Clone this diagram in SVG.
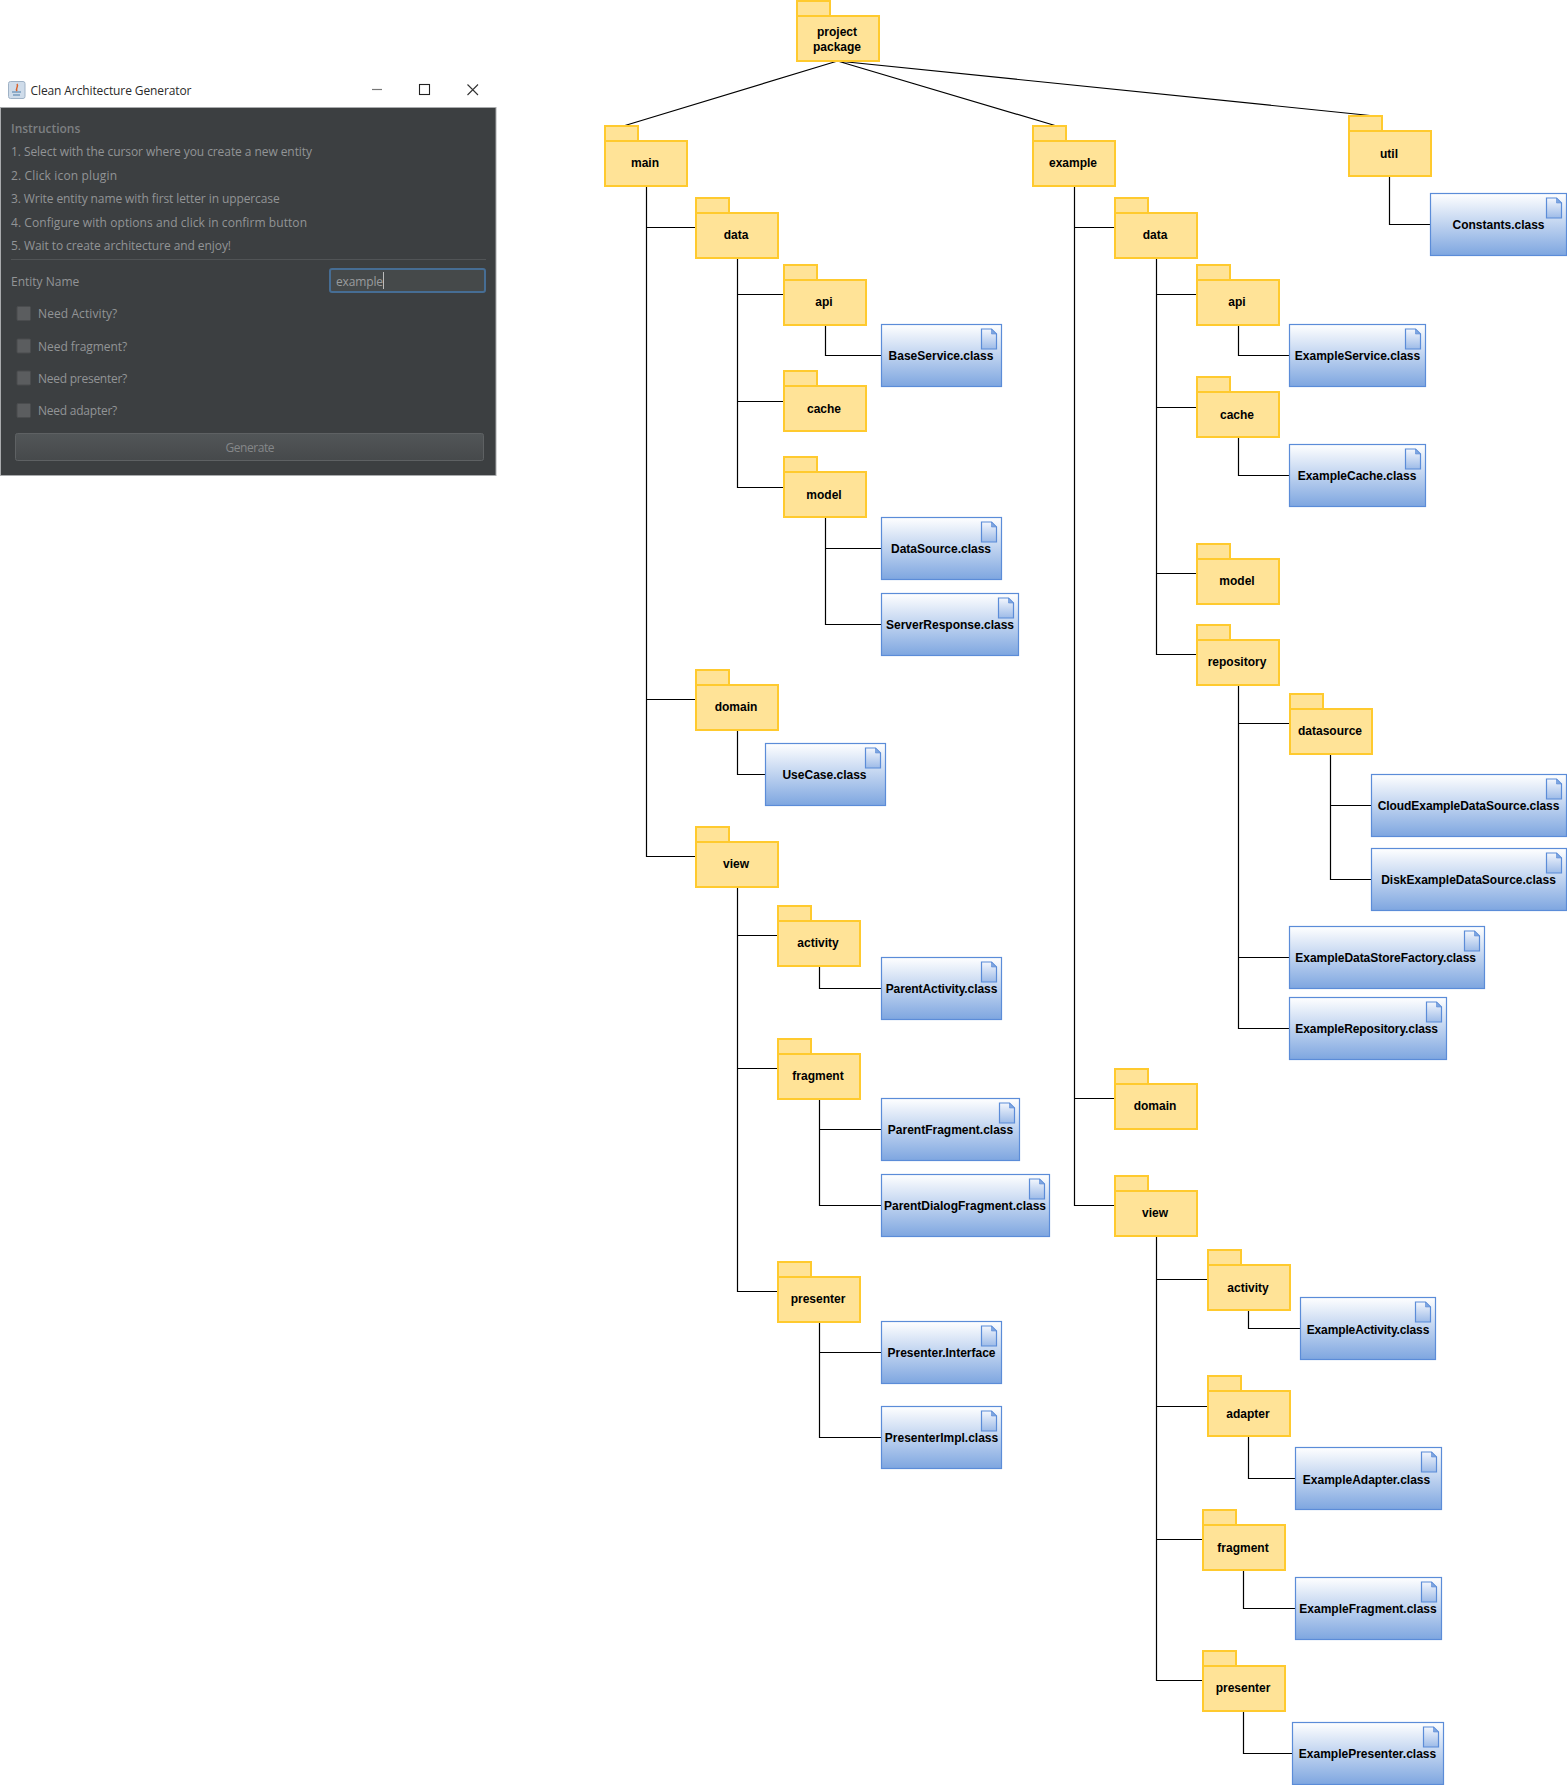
<svg xmlns="http://www.w3.org/2000/svg" width="1567" height="1785" viewBox="0 0 1567 1785">
<style>
.n{font-family:"Liberation Sans",Arial,sans-serif;font-weight:700;font-size:12px;fill:#000;text-anchor:middle}
.f{fill:#ffe397;stroke:#ffca2e;stroke-width:2}
.c{fill:url(#cg);stroke:#5b8cd8;stroke-width:1.2}
.d{fill:url(#dg);stroke:#5b8cd8;stroke-width:1.2}
.l{fill:none;stroke:#000;stroke-width:1.2}
.u{font-family:"Open Sans","Noto Sans",sans-serif;font-size:12px;fill:#929496}
.cb{fill:#5b5d5f;stroke:#4a4c4e;stroke-width:1}
</style>
<defs>
<linearGradient id="cg" x1="0" y1="0" x2="0" y2="1"><stop offset="0" stop-color="#fff"/><stop offset="1" stop-color="#7ea6e0"/></linearGradient>
<linearGradient id="dg" x1="0" y1="0" x2="0" y2="1"><stop offset="0" stop-color="#f4f7fd"/><stop offset="1" stop-color="#9dbbe8"/></linearGradient>
<linearGradient id="bg" x1="0" y1="0" x2="0" y2="1"><stop offset="0" stop-color="#525658"/><stop offset="1" stop-color="#46494b"/></linearGradient>
<g id="folder"><rect class="f" x="1" y="1" width="33" height="15"/><rect class="f" x="1" y="16" width="82" height="45"/></g>
<g id="doc"><path class="d" d="M0 0H10L15 5V20H0Z"/><path d="M10 0V5H15Z" fill="#7ea6e0" stroke="#5b8cd8" stroke-width="0.6"/></g>
</defs>
<rect width="1567" height="1785" fill="#fff"/>

<g id="window">
<rect x="0.5" y="107.5" width="495.5" height="368" fill="#3c3f41" stroke="#a9abad" stroke-width="1"/>
<g id="titlebar">
<rect x="8.5" y="81.5" width="16.5" height="17" rx="2" fill="#cfdcea" stroke="#9fb2c6" stroke-width="1"/>
<path d="M17 84c2 3-2 4 0 7" fill="none" stroke="#d9622b" stroke-width="1.5"/>
<path d="M12 92h9M13 95h7" stroke="#4f7ca8" stroke-width="1.2"/>
<text x="30.5" y="94.5" textLength="161" style="font-family:'Open Sans','Noto Sans',sans-serif;font-size:12px;fill:#2a2a2a">Clean Architecture Generator</text>
<path d="M372 89.5H382" stroke="#777" stroke-width="1.2"/>
<rect x="419.5" y="84.5" width="10" height="10" fill="none" stroke="#222" stroke-width="1.1"/>
<path d="M467.5 84.5L478 95M478 84.5L467.5 95" stroke="#333" stroke-width="1.1"/>
</g>
<text class="u" x="11" y="132.5" textLength="69.3" style="font-weight:600;fill:#7d7f81">Instructions</text>
<text class="u" x="11" y="156" textLength="301">1. Select with the cursor where you create a new entity</text>
<text class="u" x="11" y="179.5" textLength="106">2. Click icon plugin</text>
<text class="u" x="11" y="203" textLength="268.7">3. Write entity name with first letter in uppercase</text>
<text class="u" x="11" y="226.5" textLength="296">4. Configure with options and click in confirm button</text>
<text class="u" x="11" y="250" textLength="220">5. Wait to create architecture and enjoy!</text>
<path d="M11 259.5H486" stroke="#515456" stroke-width="1"/>
<text class="u" x="11" y="285.5" textLength="68.3">Entity Name</text>
<rect x="330" y="269" width="155" height="23" rx="2" fill="#45494a" stroke="#466d94" stroke-width="2"/>
<text class="u" x="336" y="285.5" textLength="47" style="fill:#9a9c9e">example</text>
<path d="M383.5 272V289" stroke="#bbb" stroke-width="1"/>
<rect class="cb" x="17" y="306.5" width="13.5" height="14" rx="1"/>
<text class="u" x="38" y="318" textLength="79.3">Need Activity?</text>
<rect class="cb" x="17" y="339" width="13.5" height="14" rx="1"/>
<text class="u" x="38" y="350.5" textLength="89.3">Need fragment?</text>
<rect class="cb" x="17" y="371" width="13.5" height="14" rx="1"/>
<text class="u" x="38" y="382.5" textLength="89.3">Need presenter?</text>
<rect class="cb" x="17" y="403.5" width="13.5" height="14" rx="1"/>
<text class="u" x="38" y="415" textLength="79.3">Need adapter?</text>
<rect x="15.5" y="433.5" width="468" height="27" rx="2" fill="url(#bg)" stroke="#5e6163" stroke-width="1"/>
<text class="u" x="250" y="451.5" text-anchor="middle" textLength="49" style="fill:#858789">Generate</text>
</g>

<g id="connectors">
<path class="l" d="M837.5 61L625 125.5M837.5 61L1055 125.5M837.5 61L1370 115.5"/>
<path class="l" d="M646.5 186V856.5H696M646.5 227.5H696M646.5 699.5H696"/>
<path class="l" d="M737.5 258V487.5H784M737.5 294.5H784M737.5 401.5H784"/>
<path class="l" d="M825.5 325V355.5H882"/>
<path class="l" d="M825.5 517V624.5H882M825.5 548.5H882"/>
<path class="l" d="M737.5 730V774.5H766"/>
<path class="l" d="M737.5 887V1291.5H778M737.5 935.5H778M737.5 1068.5H778"/>
<path class="l" d="M819.5 966V988.5H882"/>
<path class="l" d="M819.5 1099V1205.5H882M819.5 1129.5H882"/>
<path class="l" d="M819.5 1322V1437.5H882M819.5 1352.5H882"/>
<path class="l" d="M1074.5 186V1205.5H1115M1074.5 227.5H1115M1074.5 1098.5H1115"/>
<path class="l" d="M1156.5 258V654.5H1197M1156.5 294.5H1197M1156.5 407.5H1197M1156.5 573.5H1197"/>
<path class="l" d="M1238.5 325V355.5H1290"/>
<path class="l" d="M1238.5 437V475.5H1290"/>
<path class="l" d="M1389.5 176V224.5H1431"/>
<path class="l" d="M1238.5 685V1028.5H1290M1238.5 723.5H1290M1238.5 957.5H1290"/>
<path class="l" d="M1330.5 754V879.5H1372M1330.5 805.5H1372"/>
<path class="l" d="M1156.5 1236V1680.5H1203M1156.5 1279.5H1208M1156.5 1406.5H1208M1156.5 1539.5H1203"/>
<path class="l" d="M1248.5 1310V1328.5H1301"/>
<path class="l" d="M1248.5 1436V1478.5H1296"/>
<path class="l" d="M1243.5 1570V1608.5H1296"/>
<path class="l" d="M1243.5 1711V1753.5H1293"/>
</g>

<g id="project-package" transform="translate(796 0)"><use href="#folder"/><text class="n" x="41" y="36">project</text><text class="n" x="41" y="51">package</text></g>
<g id="main" transform="translate(604 125)"><use href="#folder"/><text class="n" x="41" y="42">main</text></g>
<g id="example" transform="translate(1032 125)"><use href="#folder"/><text class="n" x="41" y="42">example</text></g>
<g id="util" transform="translate(1348 115)"><use href="#folder"/><text class="n" x="41" y="43">util</text></g>
<g id="main-data" transform="translate(695 197)"><use href="#folder"/><text class="n" x="41" y="42">data</text></g>
<g id="main-api" transform="translate(783 264)"><use href="#folder"/><text class="n" x="41" y="42">api</text></g>
<g id="main-cache" transform="translate(783 370)"><use href="#folder"/><text class="n" x="41" y="43">cache</text></g>
<g id="main-model" transform="translate(783 456)"><use href="#folder"/><text class="n" x="41" y="43">model</text></g>
<g id="main-domain" transform="translate(695 669)"><use href="#folder"/><text class="n" x="41" y="42">domain</text></g>
<g id="main-view" transform="translate(695 826)"><use href="#folder"/><text class="n" x="41" y="42">view</text></g>
<g id="main-activity" transform="translate(777 905)"><use href="#folder"/><text class="n" x="41" y="42">activity</text></g>
<g id="main-fragment" transform="translate(777 1038)"><use href="#folder"/><text class="n" x="41" y="42">fragment</text></g>
<g id="main-presenter" transform="translate(777 1261)"><use href="#folder"/><text class="n" x="41" y="42">presenter</text></g>
<g id="ex-data" transform="translate(1114 197)"><use href="#folder"/><text class="n" x="41" y="42">data</text></g>
<g id="ex-api" transform="translate(1196 264)"><use href="#folder"/><text class="n" x="41" y="42">api</text></g>
<g id="ex-cache" transform="translate(1196 376)"><use href="#folder"/><text class="n" x="41" y="43">cache</text></g>
<g id="ex-model" transform="translate(1196 543)"><use href="#folder"/><text class="n" x="41" y="42">model</text></g>
<g id="ex-repository" transform="translate(1196 624)"><use href="#folder"/><text class="n" x="41" y="42">repository</text></g>
<g id="ex-datasource" transform="translate(1289 693)"><use href="#folder"/><text class="n" x="41" y="42">datasource</text></g>
<g id="ex-domain" transform="translate(1114 1068)"><use href="#folder"/><text class="n" x="41" y="42">domain</text></g>
<g id="ex-view" transform="translate(1114 1175)"><use href="#folder"/><text class="n" x="41" y="42">view</text></g>
<g id="ex-activity" transform="translate(1207 1249)"><use href="#folder"/><text class="n" x="41" y="43">activity</text></g>
<g id="ex-adapter" transform="translate(1207 1375)"><use href="#folder"/><text class="n" x="41" y="43">adapter</text></g>
<g id="ex-fragment" transform="translate(1202 1509)"><use href="#folder"/><text class="n" x="41" y="43">fragment</text></g>
<g id="ex-presenter" transform="translate(1202 1650)"><use href="#folder"/><text class="n" x="41" y="42">presenter</text></g>

<g id="Constants" transform="translate(1430.5 193.5)"><rect class="c" width="136" height="62"/><use href="#doc" x="116" y="4.5"/><text class="n" x="68" y="35">Constants.class</text></g>
<g id="BaseService" transform="translate(881.5 324.5)"><rect class="c" width="120" height="62"/><use href="#doc" x="100" y="4.5"/><text class="n" x="59.5" y="35">BaseService.class</text></g>
<g id="ExampleService" transform="translate(1289.5 324.5)"><rect class="c" width="136" height="62"/><use href="#doc" x="116" y="4.5"/><text class="n" x="68" y="35">ExampleService.class</text></g>
<g id="ExampleCache" transform="translate(1289.5 444.5)"><rect class="c" width="136" height="62"/><use href="#doc" x="116" y="4.5"/><text class="n" x="67.5" y="35">ExampleCache.class</text></g>
<g id="DataSource" transform="translate(881.5 517.5)"><rect class="c" width="120" height="62"/><use href="#doc" x="100" y="4.5"/><text class="n" x="59.5" y="35">DataSource.class</text></g>
<g id="ServerResponse" transform="translate(881.5 593.5)"><rect class="c" width="137" height="62"/><use href="#doc" x="117" y="4.5"/><text class="n" x="68.5" y="35">ServerResponse.class</text></g>
<g id="UseCase" transform="translate(765.5 743.5)"><rect class="c" width="120" height="62"/><use href="#doc" x="100" y="4.5"/><text class="n" x="59" y="35">UseCase.class</text></g>
<g id="ParentActivity" transform="translate(881.5 957.5)"><rect class="c" width="120" height="62"/><use href="#doc" x="100" y="4.5"/><text class="n" x="60" y="35" textLength="111.7">ParentActivity.class</text></g>
<g id="ParentFragment" transform="translate(881.5 1098.5)"><rect class="c" width="138" height="62"/><use href="#doc" x="118" y="4.5"/><text class="n" x="69" y="35">ParentFragment.class</text></g>
<g id="ParentDialogFragment" transform="translate(881.5 1174.5)"><rect class="c" width="168" height="62"/><use href="#doc" x="148" y="4.5"/><text class="n" x="83.5" y="35">ParentDialogFragment.class</text></g>
<g id="PresenterInterface" transform="translate(881.5 1321.5)"><rect class="c" width="120" height="62"/><use href="#doc" x="100" y="4.5"/><text class="n" x="60" y="35">Presenter.Interface</text></g>
<g id="PresenterImpl" transform="translate(881.5 1406.5)"><rect class="c" width="120" height="62"/><use href="#doc" x="100" y="4.5"/><text class="n" x="60" y="35">PresenterImpl.class</text></g>
<g id="CloudExampleDataSource" transform="translate(1371.5 774.5)"><rect class="c" width="195" height="62"/><use href="#doc" x="175" y="4.5"/><text class="n" x="97" y="35" textLength="181.7">CloudExampleDataSource.class</text></g>
<g id="DiskExampleDataSource" transform="translate(1371.5 848.5)"><rect class="c" width="195" height="62"/><use href="#doc" x="175" y="4.5"/><text class="n" x="97" y="35" textLength="174.7">DiskExampleDataSource.class</text></g>
<g id="ExampleDataStoreFactory" transform="translate(1289.5 926.5)"><rect class="c" width="195" height="62"/><use href="#doc" x="175" y="4.5"/><text class="n" x="96.2" y="35" textLength="180.7">ExampleDataStoreFactory.class</text></g>
<g id="ExampleRepository" transform="translate(1289.5 997.5)"><rect class="c" width="157" height="62"/><use href="#doc" x="137" y="4.5"/><text class="n" x="77.2" y="35" textLength="142.7">ExampleRepository.class</text></g>
<g id="ExampleActivity" transform="translate(1300.5 1297.5)"><rect class="c" width="135" height="62"/><use href="#doc" x="115" y="4.5"/><text class="n" x="67.5" y="36.5" textLength="122.7">ExampleActivity.class</text></g>
<g id="ExampleAdapter" transform="translate(1295.5 1447.5)"><rect class="c" width="146" height="62"/><use href="#doc" x="126" y="4.5"/><text class="n" x="71" y="36.5">ExampleAdapter.class</text></g>
<g id="ExampleFragment" transform="translate(1295.5 1577.5)"><rect class="c" width="146" height="62"/><use href="#doc" x="126" y="4.5"/><text class="n" x="72.5" y="35">ExampleFragment.class</text></g>
<g id="ExamplePresenter" transform="translate(1292.5 1722.5)"><rect class="c" width="151" height="62"/><use href="#doc" x="131" y="4.5"/><text class="n" x="75" y="35">ExamplePresenter.class</text></g>
</svg>
